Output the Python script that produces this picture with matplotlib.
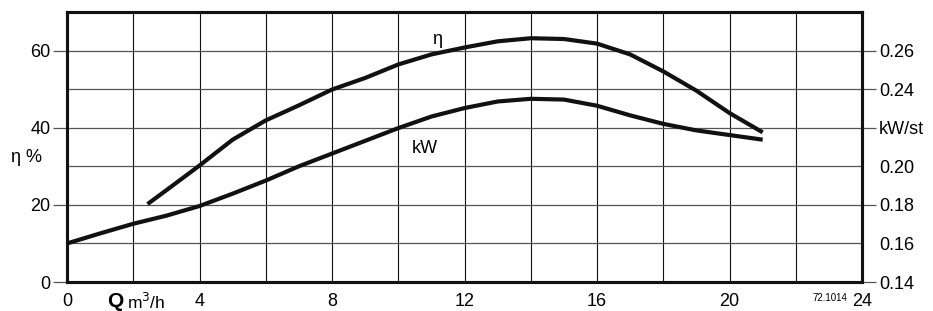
import numpy as np
import matplotlib.pyplot as plt

plt.rcParams['font.family'] = ['Liberation Sans', 'DejaVu Sans']

# efficiency curve (eta %, left axis)
q_eta = [2.43, 3, 4, 5, 6, 7, 8, 9, 10, 11, 12, 13, 14, 15, 16, 17, 18, 19, 20, 21]
eta = [20.2, 23.8, 30.2, 36.9, 41.9, 45.8, 49.9, 52.9, 56.4, 59.0, 60.8, 62.4, 63.2, 63.0, 61.8, 59.0, 54.6, 49.6, 43.8, 38.8]

# power curve (kW/st, right axis)
q_kw = [0, 1, 2, 3, 4, 5, 6, 7, 8, 9, 10, 11, 12, 13, 14, 15, 16, 17, 18, 19, 20, 21]
kw = [0.1600, 0.1652, 0.1702, 0.1744, 0.1794, 0.1858, 0.1926, 0.2000, 0.2066, 0.2132, 0.2198, 0.2258, 0.2302, 0.2336, 0.2350, 0.2346, 0.2314, 0.2264, 0.2220, 0.2186, 0.2162, 0.2138]

x_ticks = [0, 4, 8, 12, 16, 20, 24]
left_ticks = [0, 20, 40, 60]
right_ticks = [0.14, 0.16, 0.18, 0.20, 0.22, 0.24, 0.26]
right_labels = ['0.14', '0.16', '0.18', '0.20', 'kW/st', '0.24', '0.26']

fig = plt.figure(figsize=(9.33, 3.11), dpi=100)
ax = fig.add_axes([0.0718, 0.0932, 0.8522, 0.8682])
ax2 = ax.twinx()

ax.set_xlim(0, 24)
ax.set_ylim(0, 70)
ax2.set_ylim(0.14, 0.28)

# grid
for x in range(2, 24, 2):
    ax.axvline(x, color='#111111', lw=0.8, zorder=1)
for y in range(10, 70, 10):
    ax.axhline(y, color='#555555', lw=0.9, zorder=1)

ax.plot(q_eta, eta, color='#111111', lw=3, solid_capstyle='butt', solid_joinstyle='round', zorder=3)
ax2.plot(q_kw, kw, color='#111111', lw=3, solid_capstyle='butt', solid_joinstyle='round', zorder=3)

for a in (ax, ax2):
    for s in a.spines.values():
        s.set_linewidth(2.2)
        s.set_color('#111111')

ax.set_xticks(x_ticks)
ax.set_xticklabels([str(v) for v in x_ticks])
ax.set_yticks(left_ticks)
ax.tick_params(axis='x', length=0, pad=8, labelsize=13)
ax.tick_params(axis='y', length=10, width=0.9, color='#555555', pad=2, labelsize=13)

ax2.set_yticks(right_ticks)
ax2.set_yticklabels(right_labels)
ax2.tick_params(axis='y', length=10, width=0.9, color='#555555', pad=2, labelsize=13)
for t, v in zip(ax2.yaxis.get_major_ticks(), right_ticks):
    if round(v, 2) in (0.16, 0.20):
        t.tick2line.set_visible(False)

ax.text(-1.22, 32.2, 'η %', fontsize=13, ha='center', va='center')
ax.text(11.17, 62.8, 'η', fontsize=13, ha='center', va='center')
ax.text(10.8, 34.7, 'kW', fontsize=13, ha='center', va='center')
ax.text(1.45, -2.6, 'Q', fontsize=15, fontweight='bold', ha='center', va='top')
ax.text(1.8, -2.6, 'm$^3$/h', fontsize=12.5, ha='left', va='top')
ax.text(23.55, -2.9, '72.1014', fontsize=7, ha='right', va='top')

fig.savefig('out.png', dpi=100)
